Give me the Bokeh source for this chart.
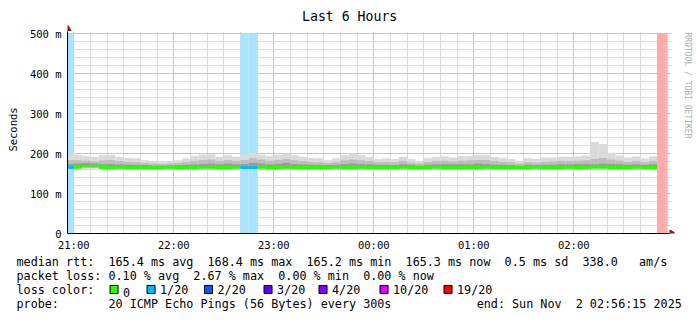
import math
from bokeh.plotting import figure
from bokeh.models import Range1d, FixedTicker, Title, ColumnDataSource
from bokeh.embed import file_html
from bokeh.resources import INLINE

# ---------------- data ----------------
title_text = "Last 6 Hours"
y_axis_title = "Seconds"
x_tick_hours = [0, 1, 2, 3, 4, 5]
x_tick_labels = ["21:00", "22:00", "23:00", "00:00", "01:00", "02:00"]
y_ticks_ms = [0, 100, 200, 300, 400, 500]
y_tick_labels = ["0", "100 m", "200 m", "300 m", "400 m", "500 m"]

window_start = "20:56:15"
window_end = "02:56:15"
first_step = "20:55:00"
step_minutes = 5

# median rtt per 5-min step (ms); None = no data
median_ms = [165.3, 165.4, 168.4, 168.4, 165.3, 165.3, 165.4, 165.3, 165.3, 165.2,
             165.3, 165.3, 165.4, 165.3, 165.3, 165.3, 165.4, 165.5, 165.3, 165.3,
             165.4, 165.3, 165.3, 165.4, 165.3, 165.3, 165.4, 165.3, 165.2, 165.3,
             165.3, 165.3, 165.4, 165.3, 165.3, 165.4, 165.3, 165.3, 165.2, 165.3,
             165.4, 165.3, 165.3, 165.3, 165.4, 165.3, 165.3, 165.2, 165.3, 165.3,
             165.4, 165.3, 165.3, 165.3, 165.2, 165.3, 165.4, 165.3, 165.3, 165.3,
             165.4, 165.3, 165.3, 165.5, 165.4, 165.3, 165.3, 165.3, 165.4, 165.3,
             165.3, None, None]
# smoke: upper edge of the lightest, middle and darkest layers (ms)
smoke_max = [200, 197, 194, 192, 196, 196, 192, 189, 188, 183,
             181, 180, 181, 183, 188, 194, 197, 198, 192, 196,
             192, 197, 202, 197, 194, 197, 200, 196, 192, 189,
             188, 183, 188, 196, 200, 196, 192, 186, 188, 186,
             192, 186, 181, 189, 192, 193, 190, 194, 194, 196,
             196, 191, 189, 186, 182, 188, 186, 190, 190, 192,
             192, 193, 195, 229, 224, 202, 195, 190, 193, 188,
             193, None, None]
smoke_mid = [184, 183, 182, 180, 183, 184, 181, 179, 178, 176,
             175, 174, 175, 176, 179, 182, 184, 185, 181, 184,
             181, 184, 188, 185, 182, 184, 186, 183, 181, 179,
             178, 176, 178, 183, 185, 183, 181, 178, 179, 178,
             181, 177, 175, 179, 181, 182, 180, 182, 183, 184,
             184, 181, 179, 178, 175, 178, 177, 179, 180, 181,
             181, 182, 183, 186, 189, 185, 182, 179, 181, 178,
             181, None, None]
smoke_low = [174, 175, 176, 175, 173, 174, 173, 172, 172, 171,
             170, 170, 170, 171, 172, 173, 174, 175, 173, 175,
             173, 174, 177, 175, 173, 174, 176, 174, 173, 172,
             172, 171, 172, 174, 175, 174, 173, 172, 172, 171,
             173, 172, 170, 172, 173, 174, 173, 174, 173, 175,
             174, 172, 172, 171, 170, 172, 171, 172, 172, 173,
             173, 174, 174, 173, 175, 174, 173, 172, 173, 172,
             173, None, None]
loss_of_20 = [1, 0, 0, 0, 0, 0, 0, 0, 0, 0,
              0, 0, 0, 0, 0, 0, 0, 0, 0, 0,
              0, 1, 1, 0, 0, 0, 0, 0, 0, 0,
              0, 0, 0, 0, 0, 0, 0, 0, 0, 0,
              0, 0, 0, 0, 0, 0, 0, 0, 0, 0,
              0, 0, 0, 0, 0, 0, 0, 0, 0, 0,
              0, 0, 0, 0, 0, 0, 0, 0, 0, 0,
              0, 19, 19]

loss_levels = ["0", "1/20", "2/20", "3/20", "4/20", "10/20", "19/20"]
loss_level_n = [0, 1, 2, 3, 4, 10, 19]
loss_line_colors = ["#26ff00", "#00b8ff", "#0059ff", "#5e00ff", "#7e00ff", "#dd00ff", "#ff0000"]
loss_band_colors = [None, "#a8e4fb", "#a8c4ff", "#c8a8ff", "#d4a8ff", "#f2a8ff", "#ffaaaa"]

stats_line = "median rtt:  165.4 ms avg  168.4 ms max  165.2 ms min  165.3 ms now  0.5 ms sd  338.0   am/s"
loss_line = "packet loss: 0.10 % avg  2.67 % max  0.00 % min  0.00 % now"
loss_color_title = "loss color:"
probe_line = "probe:       20 ICMP Echo Pings (56 Bytes) every 300s"
end_line = "end: Sun Nov  2 02:56:15 2025"
watermark = "RRDTOOL / TOBI OETIKER"

# ---------------- helpers ----------------
def hours(t):
    parts = [int(v) for v in t.split(":")]
    h = parts[0] + parts[1] / 60 + (parts[2] / 3600 if len(parts) > 2 else 0)
    if h < 12:
        h += 24
    return h - 21

def keep_spaces(s):
    return s.replace(" ", "\u00a0")

FONT = "DejaVu Sans Mono"
LEG_PX = 11.76
LEG_SIZE = "%.2fpx" % LEG_PX
CHAR_W = 0.6021 * LEG_PX
W, H = 697, 321
AX_L, AX_B = 67, 233          # axis lines (px)
DATA_R, DATA_T = 667, 33      # end of data area (px)
FL, FR, FT, FB = 67, 674, 25, 233   # frame edges (px)
x0, x1 = hours(window_start), hours(window_end)
y0, y1 = 0, 500
kx = (x1 - x0) / (DATA_R - AX_L)
ky = (y1 - y0) / (AX_B - DATA_T)

def px_x(px):
    return x0 + (px - AX_L) * kx

def px_y(py):
    return y0 + (AX_B - py) * ky

n = len(loss_of_20)
step_h = step_minutes / 60
lefts = [max(x0, hours(first_step) + k * step_h) for k in range(n)]
rights = [min(x1, hours(first_step) + (k + 1) * step_h) for k in range(n)]

# ---------------- chart ----------------
p = figure(width=W, height=H, output_backend="svg", toolbar_location=None,
           x_range=Range1d(px_x(FL), px_x(FR)), y_range=Range1d(px_y(FB), px_y(FT)),
           min_border_left=FL, min_border_right=W - FR, min_border_top=FT,
           min_border_bottom=H - FB, background_fill_color="white",
           border_fill_color="white")
p.outline_line_color = None

# grid
minor_x = [k / 6 for k in range(0, 36) if k % 6 != 0]
p.xgrid.ticker = FixedTicker(ticks=x_tick_hours, minor_ticks=minor_x)
p.ygrid.ticker = FixedTicker(ticks=y_ticks_ms, minor_ticks=[v for v in range(20, 500, 20) if v % 100])
for g in (p.xgrid[0], p.ygrid[0]):
    g.grid_line_color = "#f0b2b2"
    g.grid_line_width = 1
    g.minor_grid_line_color = "#dadada"
    g.minor_grid_line_width = 1

# axes
p.xaxis.ticker = FixedTicker(ticks=x_tick_hours)
p.xaxis.major_label_overrides = {h: l for h, l in zip(x_tick_hours, x_tick_labels)}
p.yaxis.ticker = FixedTicker(ticks=y_ticks_ms)
p.yaxis.major_label_overrides = {v: l for v, l in zip(y_ticks_ms, y_tick_labels)}
p.xaxis.bounds = (x0, px_x(669))
p.yaxis.bounds = (y0, px_y(31))
for ax in (p.xaxis[0], p.yaxis[0]):
    ax.axis_line_color = "#000000"
    ax.axis_line_width = 1
    ax.major_tick_line_color = None
    ax.minor_tick_line_color = None
    ax.major_tick_out = 0
    ax.major_tick_in = 0
    ax.major_label_text_font = FONT
    ax.major_label_text_font_size = "10.5px"
    ax.major_label_text_color = "#000000"
p.xaxis.major_label_standoff = 5
p.yaxis.major_label_standoff = 6
p.yaxis.axis_label = y_axis_title
p.yaxis.axis_label_text_font = FONT
p.yaxis.axis_label_text_font_size = "10.5px"
p.yaxis.axis_label_text_font_style = "normal"
p.yaxis.axis_label_text_color = "#000000"
p.yaxis.axis_label_standoff = 8

# white covers that trim the grid to the data area
xr0, xr1 = px_x(FL), px_x(FR)
yr0, yr1 = px_y(FB), px_y(FT)
p.quad(left=[xr0, px_x(670.5)], right=[xr1, xr1],
       bottom=[px_y(31.5), yr0], top=[yr1, yr1],
       fill_color="white", line_color=None)

# loss bands
band = dict(left=[], right=[], color=[])
for k in range(n):
    if loss_of_20[k] > 0:
        idx = loss_level_n.index(loss_of_20[k])
        band["left"].append(lefts[k]); band["right"].append(rights[k])
        band["color"].append(loss_band_colors[idx])
p.quad(left="left", right="right", bottom=y0, top=y1, color="color",
       source=ColumnDataSource(band), line_color=None)

# smoke
valid = [k for k in range(n) if smoke_max[k] is not None]
sm = ColumnDataSource(dict(
    left=[lefts[k] for k in valid], right=[rights[k] for k in valid],
    base=[median_ms[k] for k in valid], top=[smoke_max[k] for k in valid],
    mid=[smoke_mid[k] for k in valid], low=[smoke_low[k] for k in valid]))
p.quad(left="left", right="right", bottom="base", top="top", source=sm,
       fill_color="#dadada", line_color=None)
p.quad(left="left", right="right", bottom="base", top="mid", source=sm,
       fill_color="#bdbdbd", line_color=None)
p.quad(left="left", right="right", bottom="base", top="low", source=sm,
       fill_color="#9c9c9c", line_color=None)

# median line colored by loss
mv = [k for k in range(n) if median_ms[k] is not None]
med = ColumnDataSource(dict(
    x0=[lefts[k] for k in mv], x1=[rights[k] for k in mv],
    y=[median_ms[k] for k in mv],
    color=[loss_line_colors[loss_level_n.index(loss_of_20[k])] for k in mv]))
p.segment(x0="x0", y0="y", x1="x1", y1="y", color="color", line_width=3,
          line_cap="butt", source=med)

# axis arrow heads
arrow_col = "#8b1a1a"
p.scatter(x=[x0], y=[px_y(28)], marker="triangle", size=7, color=arrow_col)
p.scatter(x=[px_x(671.5)], y=[y0], marker="triangle", size=7, angle=-math.pi / 2,
          color=arrow_col)

# title (above) and watermark (right)
p.title = Title(text=keep_spaces(title_text), align="left", offset=301.5 - FL,
                text_font=FONT, text_font_size="13.2px", text_font_style="normal",
                text_color="#000000", standoff=4, vertical_align="bottom")
WM_H = 9.3
p.add_layout(Title(text=watermark, align="left", offset=7, text_font=FONT,
                   text_font_size="8px", text_font_style="normal",
                   text_color="#aaaaaa", standoff=(W - FR) - 2 - WM_H,
                   vertical_align="top"), "right")

# ---------------- legend rows: zero-height title panels below the axis ----------------
H_EST = 14.0      # text box height of an 11.76px line
D_EST = 2.8       # descent below the baseline
XAX_H = 20.7      # height of the x-axis panel
TINY = "0.1px"
TINY_H = 0.12
PAD = 4
state = {"cur": FB + XAX_H}

def spacer(to):
    size = to - state["cur"]
    p.add_layout(Title(text="\u00a0", text_font=FONT, text_font_size=LEG_SIZE,
                       standoff=size - 2 - H_EST, vertical_align="bottom"), "below")
    state["cur"] = to

def piece(text, start_x):
    p.add_layout(Title(text=keep_spaces(text), align="left", offset=start_x - FL,
                       text_font=FONT, text_font_size=LEG_SIZE, text_font_style="normal",
                       text_color="#000000", standoff=-(2 + H_EST),
                       vertical_align="bottom"), "below")

def swatch(color, left_x):
    p.add_layout(Title(text="\u00a0", align="left", offset=left_x - FL,
                       text_font=FONT, text_font_size=TINY, text_color=color,
                       standoff=-(2 + TINY_H + 2 * PAD), vertical_align="bottom",
                       background_fill_color=color, border_line_color="#000000",
                       border_line_width=1, padding=PAD), "below")

LEFT = 16
rows_y = [265.5, 279.5, 293.5, 307.5]
row_T = [b + D_EST - (2 + H_EST) / 2 for b in rows_y]

spacer(row_T[0])
piece(stats_line, LEFT)
spacer(row_T[1])
piece(loss_line, LEFT)
spacer(row_T[2])
piece(loss_color_title, LEFT)
box_left = [109.5, 146.5, 204, 263.5, 318.5, 379.5, 443.5]
for b, lab, col in zip(box_left, loss_levels, loss_line_colors):
    swatch(col, b)
    piece(lab, b + 13)
spacer(row_T[3])
piece(probe_line, LEFT)
piece(end_line, 681.5 - len(end_line) * CHAR_W)

open("out.html", "w").write(file_html(p, INLINE))
